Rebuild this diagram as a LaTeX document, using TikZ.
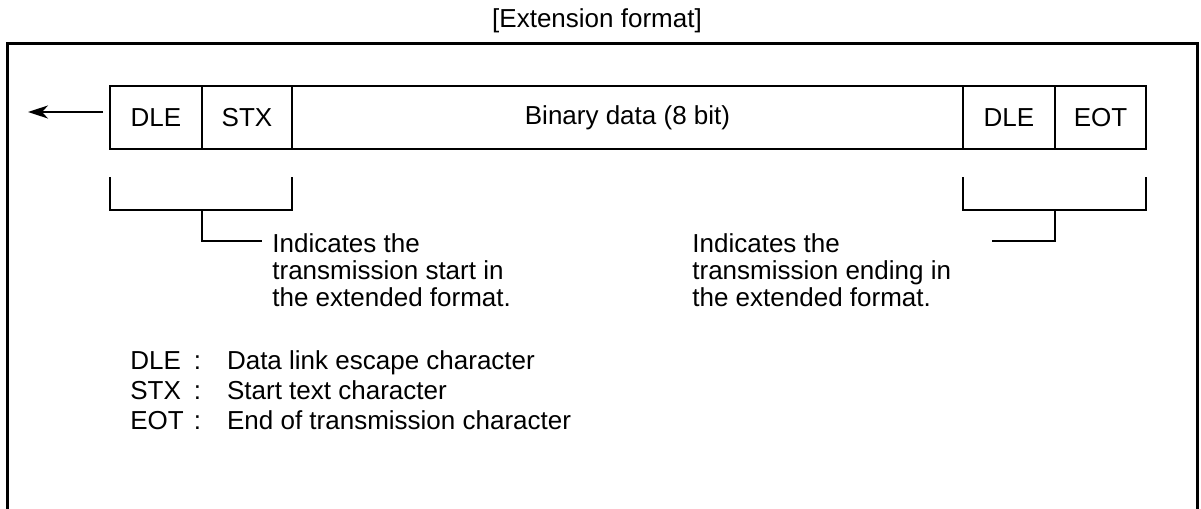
\documentclass[tikz,border=0pt]{standalone}
\usepackage{fontspec}
\setmainfont{Liberation Sans}
\usetikzlibrary{arrows.meta}
\begin{document}
\begin{tikzpicture}[x=0.5pt,y=-0.5pt,
  every node/.append style={font=\fontsize{13}{15}\selectfont},
  cell/.style={draw, line width=1.2pt, minimum height=31.5pt, inner sep=0pt, outer sep=0pt, anchor=west},
  lbl/.style={inner sep=0pt, align=left, anchor=north west, font=\fontsize{13}{13.5}\selectfont},
  brk/.style={line width=1.1pt},
  frame/.style={line width=1.5pt}]
\useasboundingbox (0,0) rectangle (1201,509);
% title
\node (title) at (597,21) {[Extension format]};
% outer frame (open at the bottom edge of the picture)
\draw[frame] (7,509) -- (7,43) -- (1197,43) -- (1197,509);
% the frame cells
\node[cell, minimum width=46pt]    (dle1) at (110,117.5) {DLE};
\node[cell, minimum width=45pt]    (stx)  at (dle1.east) {STX};
\node[cell, minimum width=335.5pt] (bin)  at (stx.east)  {Binary data (8 bit)};
\node[cell, minimum width=46pt]    (dle2) at (bin.east)  {DLE};
\node[cell, minimum width=45.5pt]  (eot)  at (dle2.east) {EOT};
% direction arrow
\coordinate (astart) at (103,112);
\coordinate (aend) at (28,112);
\draw[line width=1pt, -{Stealth[length=10pt,width=6.5pt,inset=3pt]}] (astart) -- (aend);
% explanations
\node[lbl] (ltext) at (272,233) {Indicates the\\transmission start in\\the extended format.};
\node[lbl] (rtext) at (692,233) {Indicates the\\transmission ending in\\the extended format.};
\coordinate (lend) at (262,241);
\coordinate (rend) at (992,241);
% brackets
\draw[brk] (dle1.west |- 0,177) -- (dle1.west |- 0,210) -- (stx.east |- 0,210) -- (stx.east |- 0,177);
\draw[brk] (stx.west |- 0,210) -- (stx.west |- lend) -- (lend);
\draw[brk] (dle2.west |- 0,177) -- (dle2.west |- 0,210) -- (eot.east |- 0,210) -- (eot.east |- 0,177);
\draw[brk] (dle2.east |- 0,210) -- (dle2.east |- rend) -- (rend);
% legend
\node[lbl, font=\fontsize{13}{15}\selectfont] (legend) at (130,348)
  {\begin{tabular}{@{}l@{\hspace{5pt}}l@{\hspace{13pt}}l@{}}
   DLE & : & Data link escape character\\
   STX & : & Start text character\\
   EOT & : & End of transmission character
   \end{tabular}};
\end{tikzpicture}
\end{document}
